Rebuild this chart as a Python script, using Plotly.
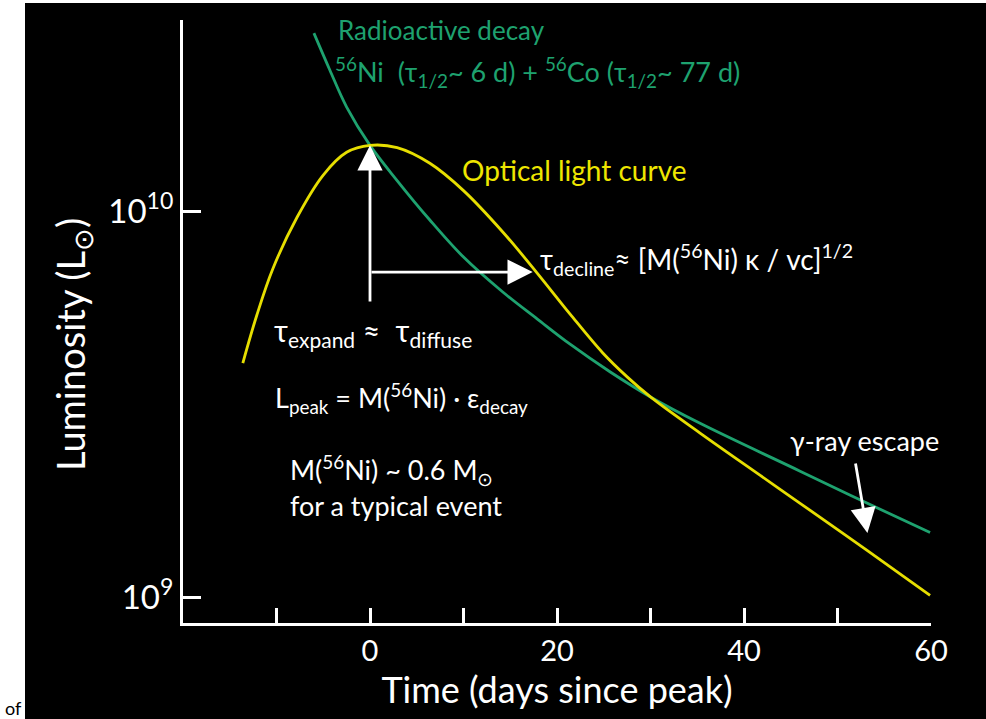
import math
import plotly.graph_objects as go

# Radioactive-decay energy deposition (56Ni -> 56Co -> 56Fe), L_sun
decay_days = [-6.0, -4.3, -2.5, 0.0, 2.9, 6.4, 10.0, 14.2, 17.9, 21.4, 25.7, 30.0, 35.3, 46.0,
              53.2, 59.9]
decay_lum = [2.89e10, 2.32e10, 1.86e10, 1.48e10, 1.20e10, 9.48e9, 7.60e9, 6.17e9, 5.25e9,
             4.52e9, 3.83e9, 3.30e9, 2.82e9, 2.12e9, 1.75e9, 1.47e9]

# Optical light curve, L_sun
optical_days = [-13.6, -12.1, -10.4, -7.8, -5.0, -2.5, 0.0, 2.9, 6.4, 10.0, 14.2, 17.9, 21.4,
                24.9, 27.5, 30.0, 35.3, 41.7, 46.0, 53.2, 59.9]
optical_lum = [4.04e9, 5.38e9, 7.08e9, 9.64e9, 1.24e10, 1.42e10, 1.48e10, 1.46e10, 1.33e10,
               1.13e10, 8.83e9, 6.90e9, 5.41e9, 4.29e9, 3.72e9, 3.30e9, 2.66e9, 2.07e9, 1.75e9,
               1.32e9, 1.01e9]

x_tick_vals = [-10, 0, 10, 20, 30, 40, 50, 60]
x_tick_text = ["", "0", "", "20", "", "40", "", "60"]
y_tick_vals = [1e9, 1e10]
y_tick_text = ["10<sup>9</sup>", "10<sup>10</sup>"]

GREEN = "#1ea26f"
YELLOW = "#e6de00"
TEXT_YELLOW = "#eee600"
FONT = "Lato"

fig = go.Figure()
fig.add_trace(go.Scatter(x=decay_days, y=decay_lum, mode="lines", line_shape="spline",
                         line=dict(color=GREEN, width=2.8), hoverinfo="skip"))
fig.add_trace(go.Scatter(x=optical_days, y=optical_lum, mode="lines", line_shape="spline",
                         line=dict(color=YELLOW, width=2.8), hoverinfo="skip"))

peak_i = optical_lum.index(max(optical_lum))
peak_day = optical_days[peak_i]
peak_log = math.log10(optical_lum[peak_i])


def label(x, logy, text, color="white", size=27, anchor="left"):
    fig.add_annotation(x=x, y=logy, xref="x", yref="y", text=text, showarrow=False,
                       xanchor=anchor, yanchor="middle",
                       font=dict(family=FONT, size=size, color=color))


def arrow(x, logy, ax, alogy):
    fig.add_annotation(x=x, y=logy, ax=ax, ay=alogy, xref="x", yref="y", axref="x", ayref="y",
                       text="", showarrow=True, arrowhead=2, arrowsize=1.8, arrowwidth=2.8,
                       arrowcolor="white", standoff=0)


# rise-time arrow up to the peak, decline-time arrow to the right
arrow(peak_day, peak_log, peak_day, 9.762)
fig.add_shape(type="line", x0=peak_day, x1=peak_day + 1.5, y0=9.842, y1=9.842,
              line=dict(color="white", width=2.8))
arrow(17.4, 9.842, peak_day, 9.842)
arrow(53.2, 9.166, 51.9, 9.350)

label(-3.6, 10.469, "Radioactive decay", GREEN, 26)
label(-4.0, 10.360, "<sup>56</sup>Ni  (τ<sub>1/2</sub>~ 6 d) + <sup>56</sup>Co (τ<sub>1/2</sub>~ 77 d)",
      GREEN, 27)
label(9.6, 10.106, "Optical light curve", TEXT_YELLOW, 28)
label(18.0, 9.874, "τ<sub>decline</sub>≈ [M(<sup>56</sup>Ni) κ / vc]<sup>1/2</sup>", "white", 28)
label(-10.5, 9.688, "τ<sub>expand</sub> ≈  τ<sub>diffuse</sub>", "white", 30)
label(-10.4, 9.517, "L<sub>peak</sub> = M(<sup>56</sup>Ni) · ε<sub>decay</sub>", "white", 27)
label(-8.8, 9.329, "M(<sup>56</sup>Ni) ~ 0.6 M<sub>⊙</sub>", "white", 27)
label(-8.8, 9.238, "for a typical event", "white", 27)
label(44.7, 9.407, "γ-ray escape", "white", 27)

# y-axis title, rotated
fig.add_annotation(x=(73 - 183) / 748, y=(623 - 345) / 603, xref="paper", yref="paper",
                   text="Luminosity (L<sub>⊙</sub>)", textangle=-90, showarrow=False,
                   xanchor="center", yanchor="middle",
                   font=dict(family=FONT, size=38, color="white"))

# page edge text
fig.add_annotation(x=(3 - 183) / 748, y=(623 - 708) / 603, xref="paper", yref="paper", text="of",
                   showarrow=False, xanchor="left", yanchor="middle",
                   font=dict(family=FONT, size=18, color="black"))

# dark slide panel
fig.add_shape(type="rect", xref="paper", yref="paper", x0=(25 - 183) / 748, x1=1.2,
              y0=-0.3, y1=1 + 17 / 603, fillcolor="black", line_width=0, layer="below")

fig.update_xaxes(range=[-20, 60], showline=True, linecolor="white", linewidth=3,
                 ticks="inside", ticklen=15, tickwidth=3, tickcolor="white",
                 tickvals=x_tick_vals, ticktext=x_tick_text, showgrid=False, zeroline=False,
                 tickfont=dict(family=FONT, size=29, color="white"),
                 title=dict(text="Time (days since peak)", standoff=6,
                            font=dict(family=FONT, size=36, color="white")))
fig.update_yaxes(type="log", range=[8.933, 10.495], showline=True, linecolor="white", linewidth=3,
                 ticks="inside", ticklen=18, tickwidth=3, tickcolor="white",
                 tickvals=y_tick_vals, ticktext=y_tick_text, showgrid=False, zeroline=False,
                 tickfont=dict(family=FONT, size=33, color="white"))

fig.update_layout(width=986, height=719, paper_bgcolor="white", plot_bgcolor="black",
                  showlegend=False, margin=dict(l=183, r=55, t=20, b=96))

fig.write_html("out.html")
